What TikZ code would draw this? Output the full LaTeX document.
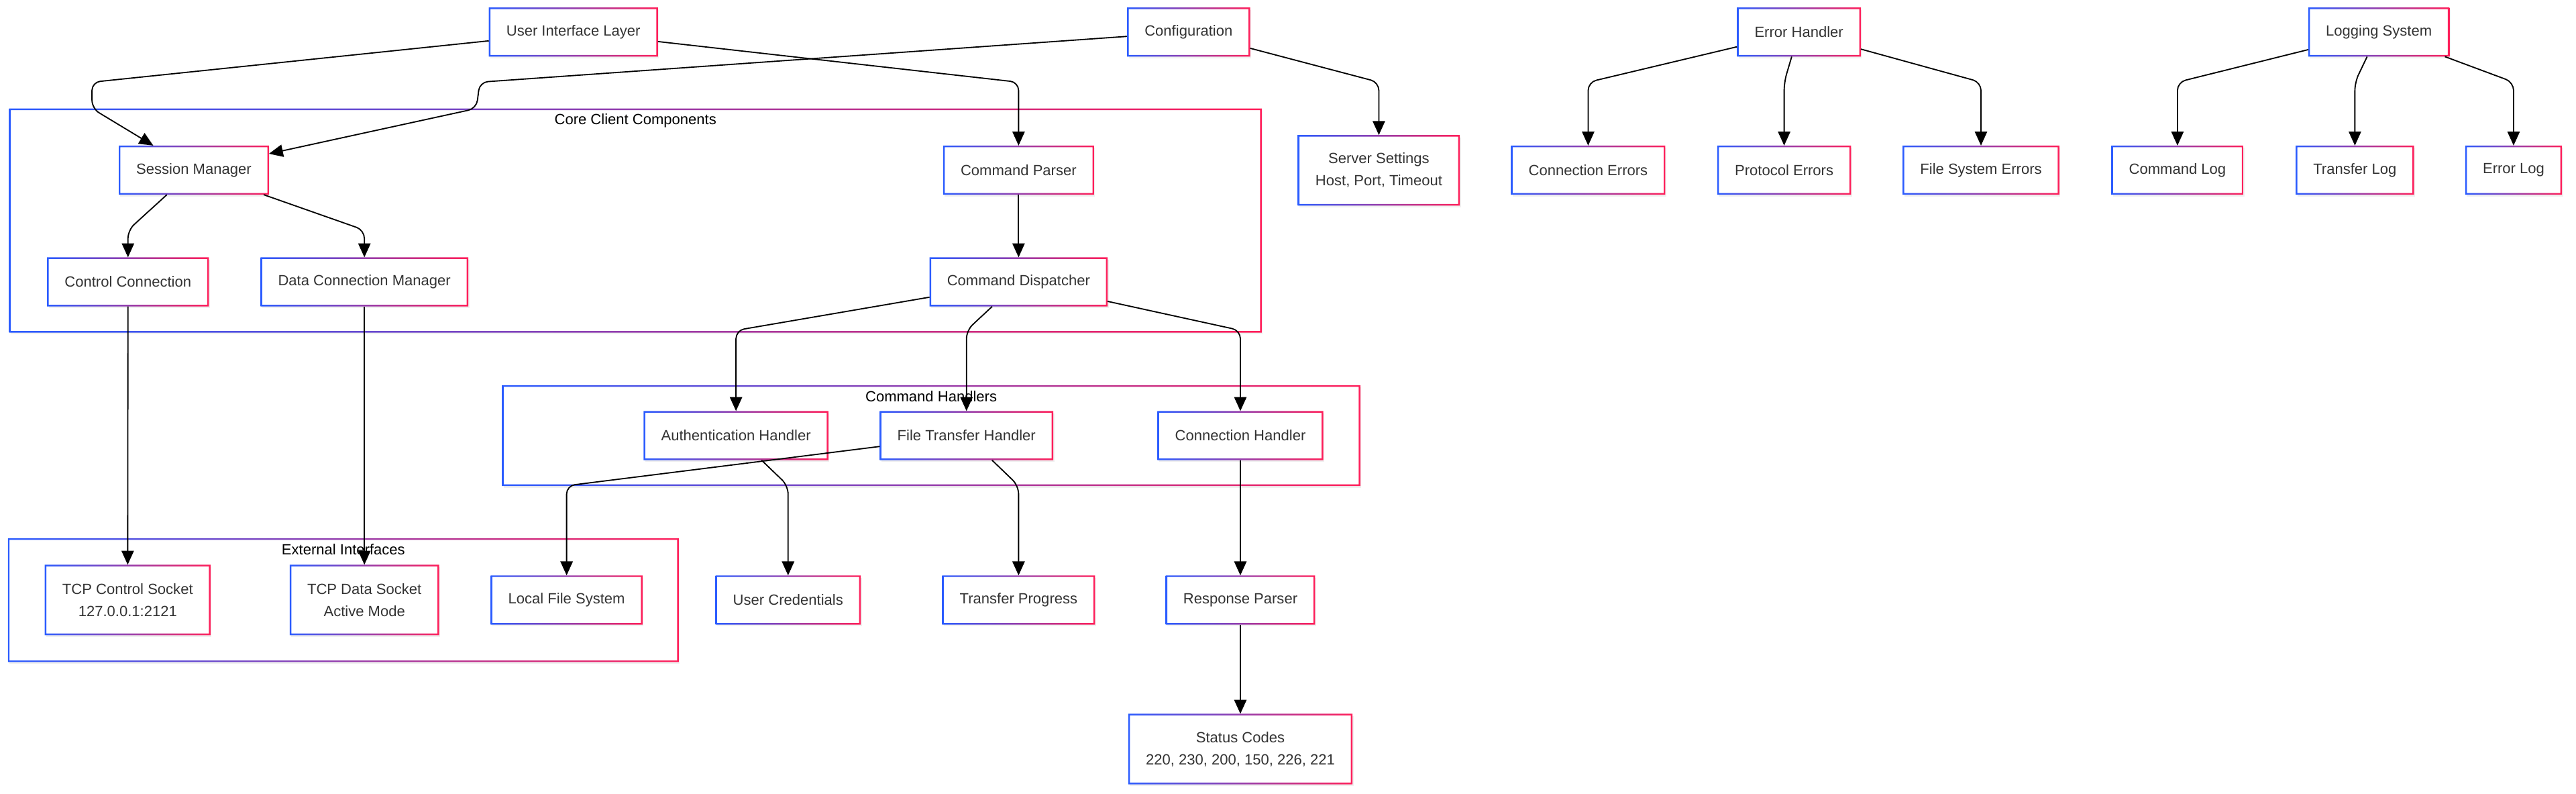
\documentclass[tikz,border=0pt]{standalone}
\usepackage{fontspec}
\setmainfont{Liberation Sans}
\usepackage{tikz}
\usetikzlibrary{arrows.meta,positioning,calc,shadows}
\usepackage{xcolor}
\definecolor{FrameBlue}{HTML}{2B5CFF}
\definecolor{FrameRed}{HTML}{FF1F5A}
\definecolor{NodeText}{HTML}{333333}

\begin{document}
\begin{tikzpicture}[x=1pt,y=-1pt,
  box/.style={fill=white, text=NodeText, font=\fontsize{9}{13.5}\selectfont,
    inner xsep=10.5pt, minimum height=29.5pt, align=center,
    drop shadow={shadow xshift=0.8pt, shadow yshift=-1.2pt, opacity=0.12}},
  box2/.style={box, minimum height=42.5pt},
  cluster/.style={fill=white, inner sep=0pt,
    drop shadow={shadow xshift=0.8pt, shadow yshift=-1.2pt, opacity=0.12}},
  grplabel/.style={font=\fontsize{9}{11}\selectfont, inner sep=0pt},
  frame/.style={left color=FrameBlue, right color=FrameRed, even odd rule},
  link/.style={draw=black, line width=0.75pt, rounded corners=5pt,
    -{Triangle[length=8.5pt,width=7.5pt]}}]
  \useasboundingbox (0,0) rectangle (1568,483);

  % subgraphs
  \node[cluster, minimum width=762pt, minimum height=136pt] (core) at (386.8,134.2) {};
  \node[cluster, minimum width=522pt, minimum height=61pt] (cmdh) at (566.8,265) {};
  \node[cluster, minimum width=408pt, minimum height=75pt] (ext) at (209,365.1) {};
  \foreach \n in {core,cmdh,ext}
    \shade[frame] (\n.south west) rectangle (\n.north east)
      ([shift={(1pt,1pt)}]\n.south west) rectangle ([shift={(-1pt,-1pt)}]\n.north east);
  \node[grplabel, below=3pt of core.north] {Core Client Components};
  \node[grplabel, below=3.5pt of cmdh.north] {Command Handlers};
  \node[grplabel, below=3.5pt of ext.north] {External Interfaces};

  % top row
  \node[box] (ui)  at (349,19.5)  {User Interface Layer};
  \node[box] (cfg) at (723.5,19.5) {Configuration};
  \node[box] (eh)  at (1095,19.5) {Error Handler};
  \node[box] (ls)  at (1448,19.5) {Logging System};

  \node[box]  (sm)  at (118,103.5)   {Session Manager};
  \node[box]  (cp)  at (620,103.5)   {Command Parser};
  \node[box2] (ss)  at (839.3,103.6) {Server Settings\\Host, Port, Timeout};
  \node[box]  (ce)  at (966.7,103.5) {Connection Errors};
  \node[box]  (pe)  at (1086,103.5)  {Protocol Errors};
  \node[box]  (fse) at (1205.8,103.5) {File System Errors};
  \node[box]  (cl)  at (1325.4,103.5) {Command Log};
  \node[box]  (tl)  at (1433.4,103.5) {Transfer Log};
  \node[box]  (el)  at (1530,103.5)  {Error Log};

  \node[box] (cc)  at (77.9,171.5)  {Control Connection};
  \node[box] (dcm) at (221.8,171.5) {Data Connection Manager};
  \node[box] (cd)  at (620,171.5)   {Command Dispatcher};

  \node[box] (ah) at (448,265)   {Authentication Handler};
  \node[box] (ft) at (588.3,265) {File Transfer Handler};
  \node[box] (ch) at (755,265)   {Connection Handler};

  \node[box2] (tcs) at (77.7,365)  {TCP Control Socket\\127.0.0.1:2121};
  \node[box2] (tds) at (221.8,365) {TCP Data Socket\\Active Mode};
  \node[box]  (lfs) at (344.9,365) {Local File System};
  \node[box]  (uc)  at (479.7,365) {User Credentials};
  \node[box]  (tp)  at (620,365)   {Transfer Progress};
  \node[box]  (rp)  at (755,365)   {Response Parser};
  \node[box2] (sc)  at (755,455.7) {Status Codes\\220, 230, 200, 150, 226, 221};

  \foreach \n in {ui,cfg,eh,ls,sm,cp,ss,ce,pe,fse,cl,tl,el,cc,dcm,cd,ah,ft,ch,tcs,tds,lfs,uc,tp,rp,sc}
    \shade[frame] (\n.south west) rectangle (\n.north east)
      ([shift={(1pt,1pt)}]\n.south west) rectangle ([shift={(-1pt,-1pt)}]\n.north east);

  % bend rows and waypoints
  \coordinate (rowA) at (0,50);
  \coordinate (rowB) at (0,140);
  \coordinate (rowC) at (0,201);
  \coordinate (rowD) at (0,295.5);
  \coordinate (uiA) at (56,50);
  \coordinate (uiB) at (56,66);
  \coordinate (cfA) at (292,50);
  \coordinate (cfB) at (290,66);

  \draw[link] (ui) -- (uiA) -- (uiB) -- (sm);
  \draw[link] (ui) -- (cp |- rowA) -- (cp);
  \draw[link] (cfg) -- (cfA) -- (cfB) -- (sm);
  \draw[link] (cfg) -- (ss |- rowA) -- (ss);
  \draw[link] (sm) -- (cc |- rowB) -- (cc);
  \draw[link] (sm) -- (dcm |- rowB) -- (dcm);
  \draw[link] (cp) -- (cd);
  \draw[link] (cd) -- (ah |- rowC) -- (ah);
  \draw[link] (cd) -- (ft |- rowC) -- (ft);
  \draw[link] (cd) -- (ch |- rowC) -- (ch);
  \draw[link] (cc) -- (tcs);
  \draw[link] (dcm) -- (tds);
  \draw[link] (ft) -- (lfs |- rowD) -- (lfs);
  \draw[link] (ah) -- (uc |- rowD) -- (uc);
  \draw[link] (ft) -- (tp |- rowD) -- (tp);
  \draw[link] (ch) -- (rp);
  \draw[link] (rp) -- (sc);
  \foreach \t in {ce,pe,fse}
    \draw[link] (eh) -- (\t |- rowA) -- (\t);
  \foreach \t in {cl,tl,el}
    \draw[link] (ls) -- (\t |- rowA) -- (\t);
\end{tikzpicture}
\end{document}
